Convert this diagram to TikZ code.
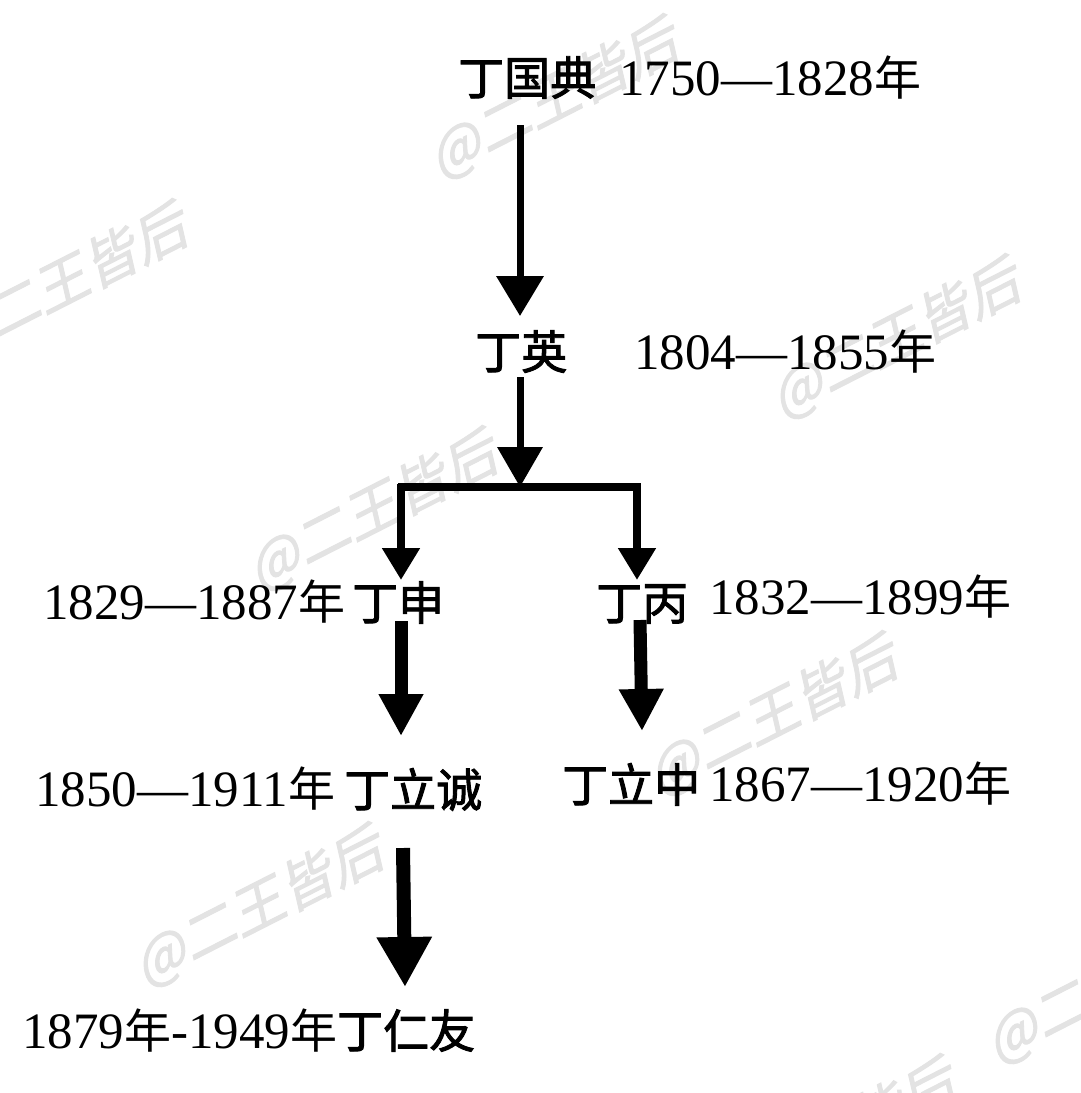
\documentclass[tikz,border=0pt]{standalone}
\usepackage{fontspec}
\setmainfont{Liberation Serif}
\newfontfamily\cjk{Noto Sans CJK SC}
\newfontfamily\cjkname[FakeBold=2]{Noto Sans CJK SC}
\newfontfamily\wmfont[FakeSlant=0.25,FakeBold=1.5]{Noto Sans CJK SC}
\newcommand{\nian}{{\cjk\fontsize{47}{47}\selectfont 年}}
\usetikzlibrary{arrows.meta}
\begin{document}
\begin{tikzpicture}[x=1pt,y=-1pt,
  person/.style={font=\cjkname\fontsize{46}{46}\selectfont, anchor=base west, inner sep=0pt},
  yrs/.style={font=\fontsize{51}{51}\selectfont, anchor=base west, inner sep=0pt},
  wm/.style={font=\wmfont\fontsize{55}{55}\selectfont, text=black!11, rotate=27, inner sep=0pt},
  thinarrow/.style={line width=7pt, -{Triangle[width=46pt,length=40pt]}},
  thickarrow/.style={line width=13pt, -{Triangle[width=42pt,length=42pt]}},
  brancharrow/.style={line width=8pt, -{Triangle[width=36pt,length=32pt]}}
]
\useasboundingbox[fill=white] (0,0) rectangle (1080,1093);
% watermarks
\node[wm] (w1) at (553,100) {@二王皆后};
\node[wm] (w2) at (62,285) {@二王皆后};
\node[wm] (w3) at (895,340) {@二王皆后};
\node[wm] (w4) at (372,512) {@二王皆后};
\node[wm] (w5) at (772,717) {@二王皆后};
\node[wm] (w6) at (258,908) {@二王皆后};
\node[wm] (w7) at (1110,985) {@二王皆后};
\node[wm] (w8) at (830,1140) {@二王皆后};
% people
\node[person] (guodian) at (458,95) {丁国典};
\node[yrs] (guodianY) at (619,95) {1750—1828\nian};
\node[person] (ying) at (475,369) {丁英};
\node[yrs] (yingY) at (634,369) {1804—1855\nian};
\node[yrs] (shenY) at (43,619) {1829—1887\nian};
\node[person] (shen) at (352,620) {丁申};
\node[person] (bing) at (596,620) {丁丙};
\node[yrs] (bingY) at (709,614) {1832—1899\nian};
\node[yrs] (lichengY) at (35,806) {1850—1911\nian};
\node[person] (licheng) at (344,807) {丁立诚};
\node[person] (lizhong) at (562,802) {丁立中};
\node[yrs] (lizhongY) at (709,801) {1867—1920\nian};
\node[yrs] (renyou) at (22,1048) {1879\nian-1949\nian{\cjkname\fontsize{46}{46}\selectfont 丁仁友}};
% connector points
\coordinate (a1s) at (520,125);
\coordinate (a1e) at (520,316);
\coordinate (a2s) at (520,377);
\coordinate (a2e) at (520,487);
\coordinate (barL) at (398,487);
\coordinate (barR) at (641,487);
\coordinate (bLs) at (401,484);
\coordinate (bLe) at (401,580);
\coordinate (bRs) at (637,484);
\coordinate (bRe) at (637,580);
\coordinate (a3s) at (401,621);
\coordinate (a3e) at (401,736);
\coordinate (a4s) at (640,620);
\coordinate (a4e) at (642,731);
\coordinate (a5s) at (403,848);
\coordinate (a5e) at (405,987);
% arrows
\draw[thinarrow] (a1s) -- (a1e);
\draw[thinarrow, -{Triangle[width=44pt,length=40pt]}] (a2s) -- (a2e);
\draw[line width=8pt] (barL) -- (barR);
\draw[brancharrow] (bLs) -- (bLe);
\draw[brancharrow] (bRs) -- (bRe);
\draw[thickarrow] (a3s) -- (a3e);
\draw[thickarrow] (a4s) -- (a4e);
\draw[line width=14pt, -{Triangle[width=52pt,length=50pt]}] (a5s) -- (a5e);
\end{tikzpicture}
\end{document}
